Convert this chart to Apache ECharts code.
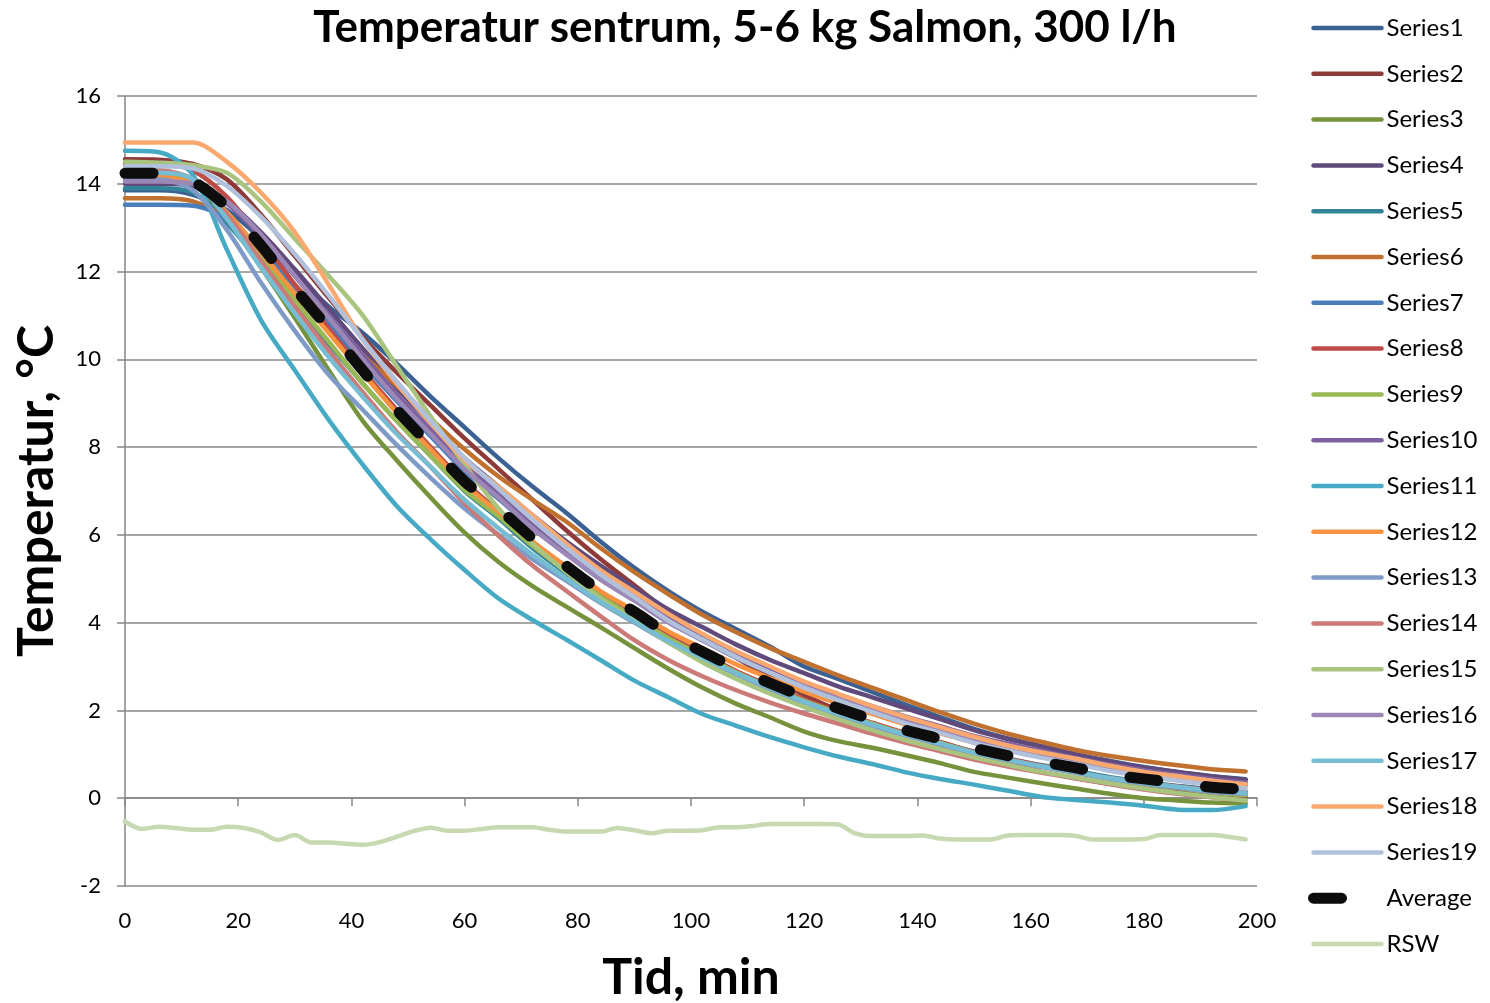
<!DOCTYPE html>
<html><head><meta charset="utf-8">
<script src="https://cdn.jsdelivr.net/npm/echarts@6/dist/echarts.min.js"></script>
<style>html,body{margin:0;padding:0;background:#fff}#c{width:1490px;height:1003px}</style>
</head><body><div id="c"></div><script>
const timeMin = [0,6,12,18,24,30,36,42,48,54,60,66,72,78,84,90,96,102,108,114,120,126,132,138,144,150,156,162,168,174,180,186,192,198];
const rswTime = [0,3,6,9,12,15,18,21,24,27,30,33,36,39,42,45,48,51,54,57,60,63,66,69,72,75,78,81,84,87,90,93,96,99,102,105,108,111,114,117,120,123,126,129,132,135,138,141,144,147,150,153,156,159,162,165,168,171,174,177,180,183,186,189,192,195,198];

const series1 = [13.85,13.85,13.75,13.4,12.75,11.95,11.2,10.6,9.9,9.15,8.45,7.75,7.1,6.5,5.85,5.25,4.72,4.25,3.85,3.45,3.0,2.72,2.42,2.13,1.85,1.58,1.36,1.18,1.0,0.85,0.71,0.59,0.5,0.43];
const series2 = [14.56,14.55,14.45,14.1,13.3,12.35,11.4,10.5,9.7,8.95,8.2,7.5,6.8,6.1,5.45,4.85,4.25,3.7,3.2,2.75,2.35,2.0,1.7,1.45,1.22,0.98,0.78,0.6,0.46,0.33,0.23,0.15,0.08,0.05];
const series3 = [14.3,14.3,14.05,13.2,12.1,10.95,9.75,8.6,7.7,6.85,6.05,5.38,4.83,4.36,3.9,3.42,2.95,2.52,2.15,1.84,1.52,1.3,1.15,0.98,0.8,0.6,0.47,0.34,0.22,0.1,0.0,-0.05,-0.1,-0.12];
const series4 = [14.0,14.0,13.95,13.6,12.9,12.05,11.15,10.25,9.35,8.55,7.75,7.1,6.45,5.85,5.3,4.8,4.3,3.9,3.5,3.15,2.85,2.55,2.3,2.05,1.8,1.55,1.35,1.18,1.0,0.84,0.7,0.6,0.5,0.42];
const series5 = [13.9,13.9,13.8,13.1,12.2,11.25,10.35,9.45,8.6,7.8,7.0,6.38,5.7,5.12,4.56,4.1,3.62,3.22,2.85,2.52,2.22,1.95,1.7,1.47,1.27,1.06,0.9,0.75,0.62,0.48,0.37,0.28,0.2,0.15];
const series6 = [13.67,13.67,13.6,13.2,12.5,11.7,10.9,10.1,9.4,8.65,7.95,7.33,6.8,6.3,5.7,5.15,4.65,4.18,3.78,3.42,3.11,2.8,2.52,2.24,1.96,1.7,1.47,1.28,1.1,0.96,0.85,0.75,0.66,0.61];
const series7 = [13.52,13.52,13.5,13.2,12.5,11.65,10.8,9.9,9.05,8.25,7.45,6.82,6.15,5.57,5.0,4.52,4.02,3.6,3.2,2.86,2.55,2.26,2.0,1.76,1.55,1.33,1.15,0.99,0.84,0.69,0.57,0.47,0.37,0.3];
const series8 = [14.45,14.45,14.3,13.7,12.75,11.7,10.7,9.75,8.85,8.0,7.2,6.55,5.85,5.25,4.68,4.2,3.7,3.3,2.9,2.56,2.25,1.97,1.72,1.48,1.28,1.06,0.9,0.74,0.6,0.46,0.35,0.27,0.18,0.13];
const series9 = [14.2,14.2,14.05,13.3,12.35,11.35,10.4,9.45,8.6,7.8,7.02,6.42,5.75,5.17,4.6,4.13,3.65,3.25,2.87,2.53,2.22,1.95,1.7,1.46,1.26,1.04,0.88,0.72,0.58,0.44,0.32,0.23,0.13,0.07];
const series10 = [14.1,14.1,14.0,13.55,12.8,11.9,11.0,10.1,9.2,8.4,7.6,6.95,6.25,5.65,5.08,4.6,4.1,3.68,3.3,2.96,2.64,2.36,2.1,1.86,1.64,1.42,1.24,1.08,0.92,0.77,0.64,0.54,0.44,0.36];
const series11 = [14.75,14.72,14.2,12.5,10.9,9.75,8.62,7.6,6.66,5.9,5.2,4.55,4.06,3.61,3.15,2.68,2.3,1.92,1.65,1.39,1.16,0.95,0.78,0.59,0.44,0.31,0.17,0.03,-0.04,-0.1,-0.17,-0.26,-0.27,-0.18];
const series12 = [14.15,14.15,14.0,13.35,12.45,11.5,10.6,9.68,8.78,7.95,7.15,6.52,5.85,5.28,4.72,4.27,3.8,3.42,3.05,2.73,2.43,2.16,1.92,1.68,1.48,1.27,1.1,0.95,0.81,0.67,0.55,0.46,0.37,0.3];
const series13 = [14.1,14.1,13.85,12.95,11.75,10.65,9.65,8.85,8.05,7.3,6.6,6.0,5.45,4.95,4.45,4.0,3.55,3.15,2.78,2.45,2.15,1.88,1.64,1.42,1.22,1.02,0.86,0.71,0.58,0.44,0.33,0.24,0.15,0.1];
const series14 = [14.3,14.3,14.1,13.3,12.25,11.2,10.2,9.25,8.35,7.55,6.72,5.98,5.3,4.72,4.15,3.6,3.15,2.78,2.46,2.18,1.93,1.7,1.47,1.26,1.07,0.88,0.72,0.58,0.45,0.32,0.2,0.1,0.02,-0.05];
const series15 = [14.5,14.48,14.42,14.25,13.6,12.75,11.9,11.0,9.85,8.7,7.6,6.6,5.8,5.15,4.55,4.05,3.55,3.1,2.72,2.38,2.08,1.8,1.55,1.32,1.12,0.93,0.76,0.6,0.47,0.34,0.22,0.12,0.03,-0.05];
const series16 = [14.05,14.05,14.0,13.6,12.85,11.9,10.95,10.0,9.1,8.3,7.5,6.85,6.15,5.55,4.98,4.5,4.0,3.6,3.2,2.86,2.55,2.27,2.01,1.77,1.56,1.34,1.16,1.0,0.86,0.71,0.6,0.5,0.4,0.32];
const series17 = [14.25,14.25,14.1,13.2,12.1,11.05,10.05,9.15,8.3,7.55,6.8,6.15,5.55,5.0,4.48,4.03,3.58,3.2,2.85,2.52,2.2,1.92,1.68,1.45,1.25,1.04,0.88,0.73,0.6,0.46,0.35,0.26,0.17,0.12];
const series18 = [14.94,14.94,14.94,14.5,13.8,12.9,11.7,10.45,9.45,8.55,7.7,7.1,6.45,5.8,5.2,4.7,4.2,3.75,3.35,3.0,2.66,2.38,2.1,1.85,1.62,1.4,1.2,1.04,0.9,0.74,0.6,0.5,0.4,0.32];
const series19 = [14.4,14.4,14.35,13.95,13.25,12.4,11.45,10.45,9.5,8.6,7.75,7.05,6.35,5.7,5.1,4.58,4.05,3.62,3.22,2.86,2.52,2.23,1.96,1.7,1.49,1.26,1.08,0.92,0.78,0.62,0.5,0.4,0.3,0.22];
const average = [14.24,14.24,14.05,13.47,12.6,11.62,10.7,9.75,8.85,8.03,7.22,6.6,5.92,5.29,4.72,4.25,3.74,3.34,2.96,2.62,2.31,2.05,1.79,1.55,1.35,1.14,0.97,0.83,0.69,0.54,0.44,0.35,0.25,0.2];
const rsw = [-0.53,-0.7,-0.65,-0.68,-0.72,-0.72,-0.65,-0.68,-0.78,-0.95,-0.84,-1.01,-1.01,-1.04,-1.06,-1.0,-0.88,-0.75,-0.67,-0.74,-0.74,-0.7,-0.66,-0.66,-0.66,-0.72,-0.76,-0.76,-0.76,-0.68,-0.73,-0.8,-0.74,-0.74,-0.73,-0.66,-0.66,-0.63,-0.59,-0.59,-0.59,-0.59,-0.6,-0.8,-0.86,-0.86,-0.86,-0.85,-0.92,-0.94,-0.94,-0.94,-0.85,-0.84,-0.84,-0.84,-0.86,-0.94,-0.94,-0.94,-0.93,-0.84,-0.84,-0.84,-0.84,-0.88,-0.94];

const seriesNames = ['Series1','Series2','Series3','Series4','Series5','Series6','Series7','Series8','Series9','Series10','Series11','Series12','Series13','Series14','Series15','Series16','Series17','Series18','Series19'];
const seriesValues = [series1,series2,series3,series4,series5,series6,series7,series8,series9,series10,series11,series12,series13,series14,series15,series16,series17,series18,series19];
const seriesColors = ['#3A6192','#8E3A38','#76923C','#5F4A7B','#33839A','#C0712F','#4A7EBB','#BE4B48','#98B954','#7D60A0','#46AAC5','#F69240','#7E9BC8','#CC7A78','#A9C47F','#9B88B6','#76BDD4','#F9A96F','#B1C1DB'];
const xTicks = {min:0, max:200, step:20};
const yTicks = {min:-2, max:16, step:2};

const FONT = 'Lato';
const LW = 4.5;
const AVG_DASH = [28, 48];
const chart = echarts.init(document.getElementById('c'), null, {renderer:'canvas'});
const pairs = (xs, ys) => xs.map((x, i) => [x, ys[i]]);

const lineSeries = seriesNames.map((name, k) => ({
  name, type:'line', data: pairs(timeMin, seriesValues[k]),
  symbol:'none', smooth:0.3,
  itemStyle:{color:seriesColors[k]},
  lineStyle:{color:seriesColors[k], width:LW, cap:'round', join:'round'},
  emphasis:{disabled:true}, z:2
}));
lineSeries.push({
  name:'Average', type:'line', data: pairs(timeMin, average),
  symbol:'none', smooth:0.3,
  itemStyle:{color:'#0D0D0D'},
  lineStyle:{color:'#0D0D0D', width:11, type:AVG_DASH, cap:'round', join:'round'},
  emphasis:{disabled:true}, z:3
});
lineSeries.push({
  name:'RSW', type:'line', data: pairs(rswTime, rsw),
  symbol:'none', smooth:0.3,
  itemStyle:{color:'#C6D9B1'},
  lineStyle:{color:'#C6D9B1', width:LW, cap:'round', join:'round'},
  emphasis:{disabled:true}, z:2
});

const legendData = seriesNames.map((n, k) => ({name:n, lineStyle:{color:seriesColors[k], width:LW, cap:'round'}}));
legendData.push({name:'Average', lineStyle:{color:'#0D0D0D', width:11, type:AVG_DASH, cap:'round'}});
legendData.push({name:'RSW', lineStyle:{color:'#C6D9B1', width:LW, cap:'round'}});

chart.setOption({
  animation:false,
  backgroundColor:'#fff',
  title:{text:'Temperatur sentrum, 5-6 kg Salmon, 300 l/h', left:'center', top:1,
    textStyle:{fontFamily:FONT, fontWeight:'bold', fontSize:44, color:'#000'}},
  grid:{left:125, right:233, top:96, bottom:117, containLabel:false, outerBoundsMode:'none'},
  legend:{
    orient:'vertical', left:1303, top:11, itemWidth:68, itemHeight:14, itemGap:21.8,
    data:legendData,
    itemStyle:{opacity:0, color:'transparent', borderWidth:0},
    lineStyle:{width:LW, cap:'round'},
    textStyle:{fontFamily:FONT, fontSize:24, color:'#000', lineHeight:24},
    selectedMode:false
  },
  xAxis:{type:'value', min:xTicks.min, max:xTicks.max, interval:xTicks.step,
    name:'Tid, min', nameLocation:'middle', nameGap:67,
    nameTextStyle:{fontFamily:FONT, fontWeight:'bold', fontSize:50, color:'#000'},
    axisLine:{show:true, lineStyle:{color:'#868686', width:1.5}},
    axisTick:{show:true, length:8, lineStyle:{color:'#868686', width:1.5}},
    axisLabel:{fontFamily:FONT, fontSize:22, color:'#000', margin:24},
    splitLine:{show:false}},
  yAxis:{type:'value', min:yTicks.min, max:yTicks.max, interval:yTicks.step,
    name:'Temperatur, °C', nameLocation:'middle', nameGap:63, nameRotate:90,
    nameTextStyle:{fontFamily:FONT, fontWeight:'bold', fontSize:50, color:'#000'},
    axisLine:{show:true, lineStyle:{color:'#868686', width:1.5}},
    axisTick:{show:true, length:8, lineStyle:{color:'#868686', width:1.5}},
    axisLabel:{fontFamily:FONT, fontSize:22, color:'#000', margin:24},
    splitLine:{show:true, lineStyle:{color:'#8A8A8A', width:1.5}}},
  series: lineSeries
});
</script></body></html>
